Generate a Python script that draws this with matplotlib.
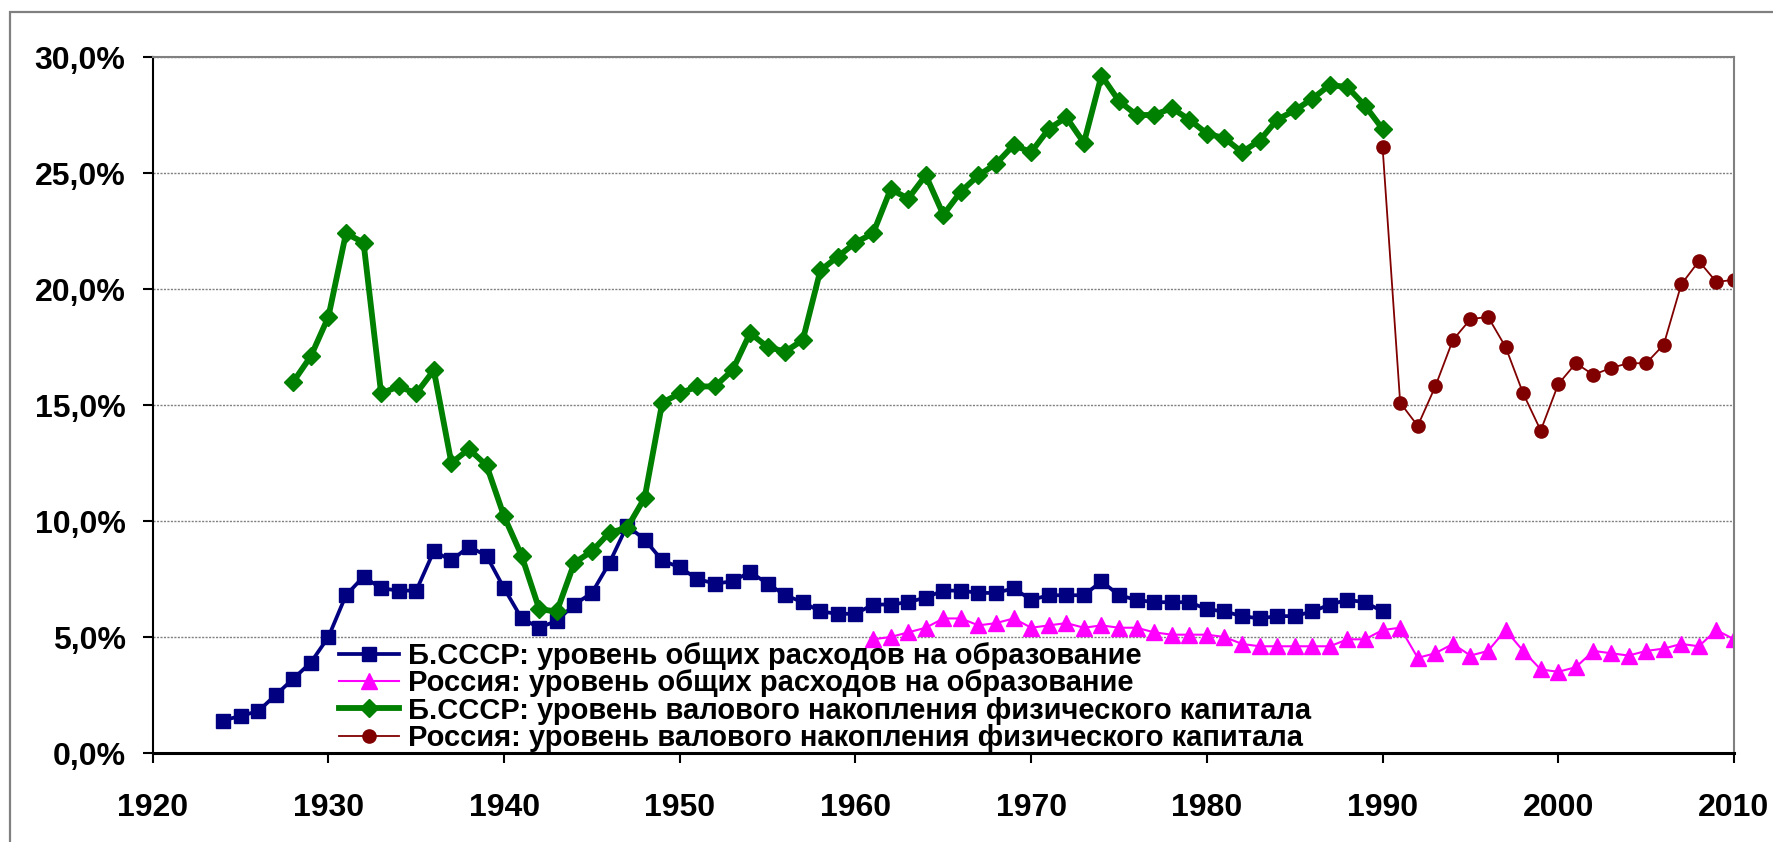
import matplotlib
matplotlib.use("Agg")
import matplotlib.pyplot as plt
from matplotlib.patches import Rectangle
from matplotlib.ticker import FuncFormatter, MultipleLocator

plt.rcParams['font.family'] = ['Liberation Sans', 'DejaVu Sans']

# Б.СССР: уровень общих расходов на образование, %
ussr_edu_years = list(range(1924, 1991))
ussr_edu = [1.4, 1.6, 1.8, 2.5, 3.2, 3.9, 5.0, 6.8, 7.6, 7.1,
            7.0, 7.0, 8.7, 8.3, 8.9, 8.5, 7.1, 5.8, 5.4, 5.7,
            6.4, 6.9, 8.2, 9.8, 9.2, 8.3, 8.0, 7.5, 7.3, 7.4,
            7.8, 7.3, 6.8, 6.5, 6.1, 6.0, 6.0, 6.4, 6.4, 6.5,
            6.7, 7.0, 7.0, 6.9, 6.9, 7.1, 6.6, 6.8, 6.8, 6.8,
            7.4, 6.8, 6.6, 6.5, 6.5, 6.5, 6.2, 6.1, 5.9, 5.8,
            5.9, 5.9, 6.1, 6.4, 6.6, 6.5, 6.1]

# Россия: уровень общих расходов на образование, %
rus_edu_years = list(range(1961, 2011))
rus_edu = [4.9, 5.0, 5.2, 5.4, 5.8, 5.8, 5.5, 5.6, 5.8, 5.4,
           5.5, 5.6, 5.4, 5.5, 5.4, 5.4, 5.2, 5.1, 5.1, 5.1,
           5.0, 4.7, 4.6, 4.6, 4.6, 4.6, 4.6, 4.9, 4.9, 5.3,
           5.4, 4.1, 4.3, 4.7, 4.2, 4.4, 5.3, 4.4, 3.6, 3.5,
           3.7, 4.4, 4.3, 4.2, 4.4, 4.5, 4.7, 4.6, 5.3, 4.9]

# Б.СССР: уровень валового накопления физического капитала, %
ussr_cap_years = list(range(1928, 1991))
ussr_cap = [16.0, 17.1, 18.8, 22.4, 22.0, 15.5, 15.8, 15.5, 16.5, 12.5,
            13.1, 12.4, 10.2, 8.5, 6.2, 6.1, 8.2, 8.7, 9.5, 9.7,
            11.0, 15.1, 15.5, 15.8, 15.8, 16.5, 18.1, 17.5, 17.3, 17.8,
            20.8, 21.4, 22.0, 22.4, 24.3, 23.9, 24.9, 23.2, 24.2, 24.9,
            25.4, 26.2, 25.9, 26.9, 27.4, 26.3, 29.2, 28.1, 27.5, 27.5,
            27.8, 27.3, 26.7, 26.5, 25.9, 26.4, 27.3, 27.7, 28.2, 28.8,
            28.7, 27.9, 26.9]

# Россия: уровень валового накопления физического капитала, %
rus_cap_years = list(range(1990, 2011))
rus_cap = [26.1, 15.1, 14.1, 15.8, 17.8, 18.7, 18.8, 17.5, 15.5, 13.9,
           15.9, 16.8, 16.3, 16.6, 16.8, 16.8, 17.6, 20.2, 21.2, 20.3, 20.4]

labels = ["Б.СССР: уровень общих расходов на образование",
          "Россия: уровень общих расходов на образование",
          "Б.СССР: уровень валового накопления физического капитала",
          "Россия: уровень валового накопления физического капитала"]

W, H = 1773, 842
fig = plt.figure(figsize=(W / 100, H / 100), dpi=100)

# outer chart frame (Excel chart area border)
fig.patches.append(Rectangle((10 / W, -0.1), 1.2, 1.1 - 12 / H, transform=fig.transFigure,
                             fill=False, edgecolor='#808080', linewidth=1.6))

ax = fig.add_axes([152.7 / W, 89 / H, (1734 - 152.7) / W, (753 - 57) / H])

ax.plot(ussr_edu_years, ussr_edu, color='#000080', lw=2.7, marker='s', ms=9.5, label=labels[0])
ax.plot(rus_edu_years, rus_edu, color='#FF00FF', lw=1.5, marker='^', ms=12, label=labels[1])
ax.plot(ussr_cap_years, ussr_cap, color='#008000', lw=4.2, marker='D', ms=9.5, label=labels[2])
ax.plot(rus_cap_years, rus_cap, color='#800000', lw=1.3, marker='o', ms=9.5, label=labels[3])

ax.set_xlim(1920, 2010)
ax.set_ylim(0, 30)
ax.xaxis.set_major_locator(MultipleLocator(10))
ax.yaxis.set_major_locator(MultipleLocator(5))
ax.yaxis.set_major_formatter(FuncFormatter(lambda v, p: f"{v:.1f}%".replace('.', ',')))

ax.grid(axis='y', color='#808080', linestyle=(0, (1.5, 1)), linewidth=1)
ax.set_axisbelow(True)

for s in ['top', 'right']:
    ax.spines[s].set_color('#808080')
    ax.spines[s].set_linewidth(1.5)
ax.spines['left'].set_linewidth(1.5)
ax.spines['bottom'].set_linewidth(2.2)

ax.tick_params(axis='x', direction='out', length=7.5, width=1.5, pad=21, labelsize=23)
ax.tick_params(axis='y', direction='out', length=7.5, width=1.5, pad=12, labelsize=23)
for t in ax.get_xticklabels() + ax.get_yticklabels():
    t.set_fontweight('bold')

leg = ax.legend(loc='center left', bbox_to_anchor=(339 / W, 1 - 697 / H),
                bbox_transform=fig.transFigure, frameon=False,
                prop={'size': 21, 'weight': 'bold'},
                borderpad=0, borderaxespad=0, handlelength=2.05, handletextpad=0.3,
                labelspacing=-0.02)

fig.savefig("out.png", dpi=100)
